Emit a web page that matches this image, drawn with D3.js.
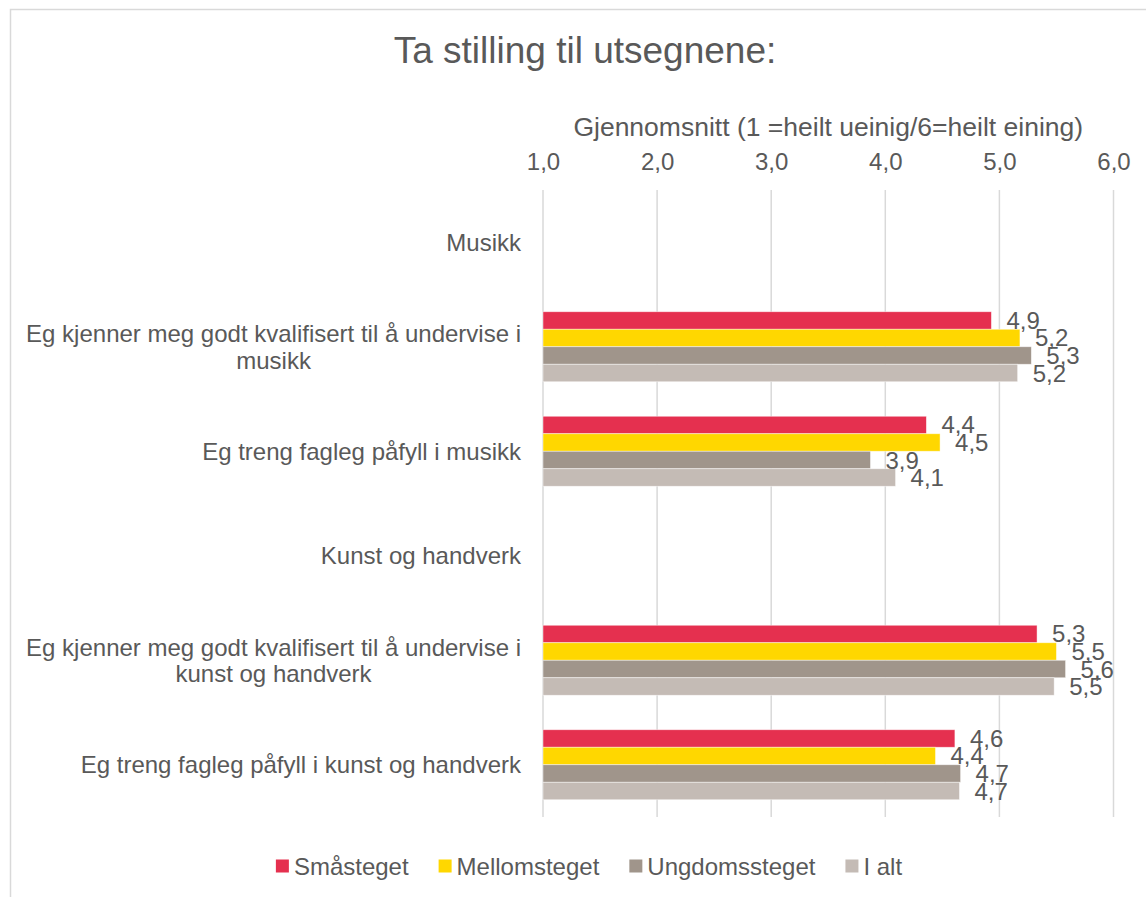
<!DOCTYPE html>
<html>
<head>
<meta charset="utf-8">
<script src="https://cdn.jsdelivr.net/npm/d3@7"></script>
<style>
  body { margin: 0; background: #fff; }
  text { font-family: "Liberation Sans", Arial, sans-serif; fill: #595959; }
</style>
</head>
<body>
<svg id="chart" width="1146" height="897"></svg>
<script>
var categories = [
  "Musikk",
  "Eg kjenner meg godt kvalifisert til å undervise i musikk",
  "Eg treng fagleg påfyll i musikk",
  "Kunst og handverk",
  "Eg kjenner meg godt kvalifisert til å undervise i kunst og handverk",
  "Eg treng fagleg påfyll i kunst og handverk"
];
var series = ["Småsteget", "Mellomsteget", "Ungdomssteget", "I alt"];
var colors = ["#e5304f", "#ffd700", "#a0958b", "#c4bbb5"];
// one array per series, null where the category is a heading
var smasteget     = [null, 4.93, 4.36, null, 5.33, 4.61];
var mellomsteget  = [null, 5.18, 4.48, null, 5.50, 4.44];
var ungdomssteget = [null, 5.28, 3.87, null, 5.58, 4.66];
var iAlt          = [null, 5.16, 4.09, null, 5.48, 4.65];
var ticks = [1, 2, 3, 4, 5, 6];
var title = "Ta stilling til utsegnene:";
var axisTitle = "Gjennomsnitt (1 =heilt ueinig/6=heilt eining)";

var values = [smasteget, mellomsteget, ungdomssteget, iAlt];
var fmt = function(v) { return d3.format(".1f")(v).replace(".", ","); };

var svg = d3.select("#chart");

// chart frame
svg.append("rect")
  .attr("x", 10.5).attr("y", 9.5)
  .attr("width", 1160).attr("height", 910)
  .attr("fill", "none").attr("stroke", "#d9d9d9").attr("stroke-width", 1.5);

var x = d3.scaleLinear().domain([1, 6]).range([543, 1113.5]);
var y0 = d3.scaleBand().domain(categories).range([190, 817])
  .paddingInner(0.33).paddingOuter(0.165);
var y1 = d3.scaleBand().domain(series).range([0, y0.bandwidth()]);

svg.append("text")
  .attr("x", 585).attr("y", 63)
  .attr("text-anchor", "middle")
  .style("font-size", "37px")
  .text(title);

svg.append("text")
  .attr("x", (x.range()[0] + x.range()[1]) / 2).attr("y", 136)
  .attr("text-anchor", "middle")
  .style("font-size", "26.5px")
  .text(axisTitle);

// gridlines
svg.append("g").selectAll("line").data(ticks).enter().append("line")
  .attr("x1", function(d) { return x(d); })
  .attr("x2", function(d) { return x(d); })
  .attr("y1", 190).attr("y2", 817)
  .attr("stroke", "#d9d9d9").attr("stroke-width", 1.5);

// top axis labels
var axis = d3.axisTop(x).tickValues(ticks).tickSize(0).tickPadding(0)
  .tickFormat(fmt);
var ag = svg.append("g").attr("transform", "translate(0,170)").call(axis);
ag.select(".domain").remove();
ag.selectAll("text").style("font-size", "24px").attr("dy", 0);

// category labels, wrapped and centered as a block, right edge at 521
var labelRight = 521, wrapWidth = 500;
categories.forEach(function(c) {
  var t = svg.append("text").style("font-size", "24px").attr("text-anchor", "middle");
  var words = c.split(" "), lines = [], line = [];
  words.forEach(function(w) {
    line.push(w);
    t.text(line.join(" "));
    if (t.node().getComputedTextLength() > wrapWidth && line.length > 1) {
      line.pop();
      lines.push(line.join(" "));
      line = [w];
    }
  });
  lines.push(line.join(" "));
  var widths = lines.map(function(l) { t.text(l); return t.node().getComputedTextLength(); });
  var cx = labelRight - d3.max(widths) / 2;
  t.text(null);
  var lh = 26.5;
  var cy = y0(c) + y0.bandwidth() / 2;
  var firstBase = cy + 8.5 - (lines.length - 1) * lh / 2;
  lines.forEach(function(l, i) {
    t.append("tspan").attr("x", cx).attr("y", firstBase + i * lh).text(l);
  });
});

// bars
var rows = [];
categories.forEach(function(c, ci) {
  series.forEach(function(s, si) {
    if (values[si][ci] != null) rows.push({ cat: c, ser: s, si: si, v: values[si][ci] });
  });
});

svg.append("g").selectAll("rect").data(rows).enter().append("rect")
  .attr("x", x(1))
  .attr("y", function(d) { return y0(d.cat) + y1(d.ser); })
  .attr("width", function(d) { return x(d.v) - x(1); })
  .attr("height", y1.bandwidth())
  .attr("fill", function(d) { return colors[d.si]; })
  .attr("stroke", "#ffffff").attr("stroke-opacity", 0.6).attr("stroke-width", 0.75);

svg.append("g").selectAll("text").data(rows).enter().append("text")
  .attr("x", function(d) { return x(d.v) + 15; })
  .attr("y", function(d) { return y0(d.cat) + y1(d.ser) + y1.bandwidth() / 2 + 8.5; })
  .style("font-size", "24px")
  .text(function(d) { return fmt(d.v); });

// legend
var lg = svg.append("g");
var lx = 0;
series.forEach(function(s, i) {
  var g = lg.append("g").attr("transform", "translate(" + lx + ",0)");
  g.append("rect").attr("x", 0).attr("y", -6.5).attr("width", 13).attr("height", 13)
    .attr("fill", colors[i]);
  var t = g.append("text").attr("x", 18).attr("y", 8.5).style("font-size", "24px").text(s);
  lx += 18 + t.node().getComputedTextLength() + 30;
});
var lw = lx - 30;
lg.attr("transform", "translate(" + (589 - lw / 2) + ",866)");
</script>
</body>
</html>
